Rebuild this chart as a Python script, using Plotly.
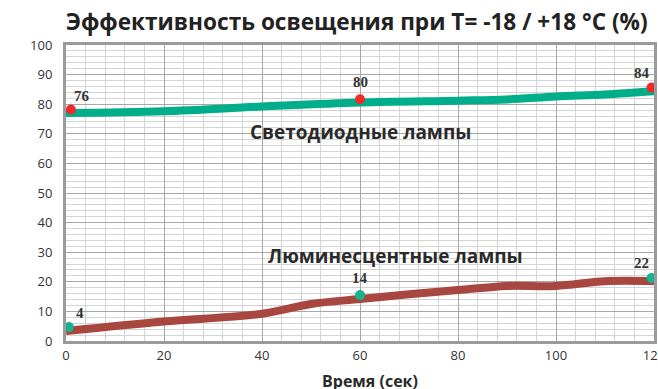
import plotly.graph_objects as go

# Line data (smoothed curves)
led_x = [0, 20, 40, 60, 80, 90, 100, 110, 120]
led_y = [77, 77.6, 79.2, 80.6, 81.2, 81.6, 82.6, 83.3, 84.4]
fl_x = [0, 20, 40, 50, 60, 70, 80, 90, 100, 110, 120]
fl_y = [3.4, 6.6, 9.2, 12.5, 14.2, 15.8, 17.2, 18.6, 18.6, 20.2, 20.2]

# Marked points and their labels
led_pts_x = [1, 60, 119.5]
led_pts_y = [78.2, 81.7, 85.6]
led_labels = ["76", "80", "84"]
fl_pts_x = [0.6, 60, 119.5]
fl_pts_y = [4.7, 15.5, 21.3]
fl_labels = ["4", "14", "22"]

title = "Эффективность освещения при T= -18 / +18 °C (%)"
xtitle = "Время (сек)"
led_name = "Светодиодные лампы"
fl_name = "Люминесцентные лампы"

GREEN = "#00ae8a"
RED_LINE = "#a8473f"
RED_DOT = "#ee2a2a"
TEAL_DOT = "#15b48c"

fig = go.Figure()
fig.add_trace(go.Scatter(x=led_x, y=led_y, mode="lines",
                         line=dict(color=GREEN, width=8, shape="spline"),
                         hoverinfo="skip"))
fig.add_trace(go.Scatter(x=fl_x, y=fl_y, mode="lines",
                         line=dict(color=RED_LINE, width=8, shape="spline"),
                         hoverinfo="skip"))
fig.add_trace(go.Scatter(x=led_pts_x, y=led_pts_y, mode="markers",
                         marker=dict(color=RED_DOT, size=10), cliponaxis=False))
fig.add_trace(go.Scatter(x=fl_pts_x, y=fl_pts_y, mode="markers",
                         marker=dict(color=TEAL_DOT, size=10), cliponaxis=False))

# pixel offsets of value labels relative to their points (first, middle, last)
label_shifts = [(11, 14), (0, 17), (-10, 15)]
annots = []
for xs, ys, labs in [(led_pts_x, led_pts_y, led_labels), (fl_pts_x, fl_pts_y, fl_labels)]:
    for i, (x, y, t) in enumerate(zip(xs, ys, labs)):
        dx, dy = label_shifts[i]
        annots.append(dict(x=x, y=y, text="<b>" + t + "</b>", showarrow=False,
                           xshift=dx, yshift=dy, xanchor="center", yanchor="middle",
                           font=dict(family="Liberation Serif", size=15, color="#333333")))
annots.append(dict(x=60.2, y=70.6, text="<b>" + led_name + "</b>", showarrow=False,
                   font=dict(family="Open Sans", size=19, color="#2a2a2a")))
annots.append(dict(x=67.2, y=28.7, text="<b>" + fl_name + "</b>", showarrow=False,
                   font=dict(family="Open Sans", size=19, color="#2a2a2a")))
annots.append(dict(x=62, y=0, text="<b>" + xtitle + "</b>", yshift=-40,
                   showarrow=False, yanchor="middle",
                   font=dict(family="Open Sans", size=16, color="#2a2a2a")))

fig.update_layout(
    width=658, height=389,
    margin=dict(l=66, r=4, t=45, b=48),
    paper_bgcolor="white", plot_bgcolor="white",
    showlegend=False,
    title=dict(text="<b>" + title + "</b>", x=66 / 658, xanchor="left", y=1 - 22 / 389, yanchor="middle",
               font=dict(family="Open Sans", size=22.6, color="#222222")),
    annotations=annots,
    xaxis=dict(range=[0, 120], dtick=20, tick0=0, showgrid=True, gridcolor="#a8a8a8", gridwidth=1,
               minor=dict(dtick=4, showgrid=True, gridcolor="#d4d4d4", gridwidth=1),
               showline=True, linecolor="#9a9a9a", linewidth=3, mirror=True,
               ticks="", zeroline=False, ticklabeloverflow="allow", automargin=False,
               tickfont=dict(family="Open Sans", size=13, color="#333333")),
    yaxis=dict(range=[0, 100], dtick=10, tick0=0, showgrid=True, gridcolor="#a8a8a8", gridwidth=1,
               minor=dict(dtick=2, showgrid=True, gridcolor="#d4d4d4", gridwidth=1),
               showline=True, linecolor="#9a9a9a", linewidth=3, mirror=True,
               ticks="", zeroline=False, ticklabelstandoff=8, automargin=False,
               tickfont=dict(family="Open Sans", size=13, color="#333333")),
)

fig.write_html("out.html", config={"displayModeBar": False},
               post_script="document.body.style.margin='0';document.body.style.overflow='hidden';")
